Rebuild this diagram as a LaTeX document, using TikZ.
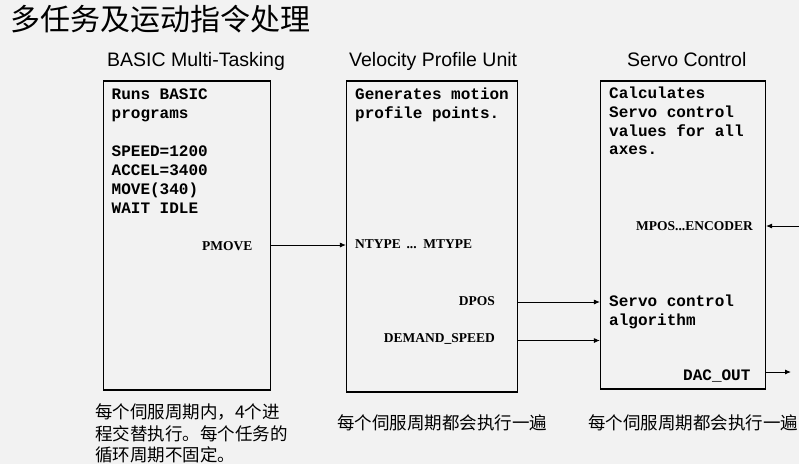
\documentclass[tikz,border=0pt]{standalone}
\usepackage{fontspec}
\setmainfont{Liberation Serif}
\setsansfont{Liberation Sans}
\setmonofont{Liberation Mono}
\newfontfamily\cjk{Noto Sans CJK SC}
\usetikzlibrary{arrows.meta}
\definecolor{bgc}{HTML}{F2F2F2}
\tikzset{
  box/.style={draw, line width=1.1pt, inner sep=0pt},
  head/.style={anchor=base west, inner sep=0pt, font=\sffamily\fontsize{19.5}{22}\selectfont},
  body/.style={anchor=north west, inner sep=0pt, align=left, font=\ttfamily\bfseries\fontsize{16}{18.9}\selectfont},
  sig/.style={inner sep=0pt, font=\rmfamily\bfseries\fontsize{13.5}{16}\selectfont},
  note/.style={anchor=north west, inner sep=0pt, align=left, font=\cjk\fontsize{17.5}{21.5}\selectfont},
  arr/.style={line width=0.9pt, -{Latex[length=6pt,width=5pt]}}
}
\begin{document}
\begin{tikzpicture}[x=1pt,y=-1pt]
\fill[bgc] (0,0) rectangle (799,464);
\useasboundingbox (0,0) rectangle (799,464);
% title
\node[anchor=west, inner sep=0pt, font=\cjk\fontsize{30}{34}\selectfont] (title) at (10,19) {多任务及运动指令处理};
% headings
\node[head] (h1) at (107,66) {BASIC Multi-Tasking};
\node[head] (h2) at (349,66) {Velocity Profile Unit};
\node[head] (h3) at (627,66) {Servo Control};
% boxes
\node[box, minimum width=167pt, minimum height=309pt] (b1) at (187,235.5) {};
\node[box, minimum width=171pt, minimum height=311pt] (b2) at (432,236.5) {};
\node[box, minimum width=165pt, minimum height=308pt] (b3) at (683,235) {};
% box texts
\node[body] (t1) at (111.5,86.3) {\strut Runs BASIC\\programs\\ \\SPEED=1200\\ACCEL=3400\\MOVE(340)\\WAIT IDLE};
\node[body] (t2) at (355,85.8) {\strut Generates motion\\profile points.};
\node[body] (t3) at (609,84.8) {\strut Calculates\\Servo control\\values for all\\axes.};
\node[body] (t4) at (609,292.8) {\strut Servo control\\algorithm};
% signal labels
\node[sig, anchor=base east] (pmove) at (252.5,250) {PMOVE};
\node[sig, anchor=base west] (ntype) at (355,248.5) {NTYPE \,...\, MTYPE};
\node[sig, anchor=base east] (dpos) at (495,305) {DPOS};
\node[sig, anchor=base east] (dspeed) at (495,342) {DEMAND\_SPEED};
\node[sig, anchor=base west] (mpos) at (636,230) {MPOS...ENCODER};
\node[anchor=base west, inner sep=0pt, font=\ttfamily\bfseries\fontsize{16}{18.9}\selectfont] (dac) at (683,380) {DAC\_OUT};
% connectors
\coordinate (ya) at (0,245);
\coordinate (yb) at (0,302);
\coordinate (yc) at (0,340.5);
\coordinate (yd) at (0,226);
\coordinate (ye) at (0,372);
\coordinate (enc) at (799,226);
\coordinate (out) at (791,372);
\draw[arr] (b1.east |- ya) -- (b2.west |- ya);
\draw[arr] (b2.east |- yb) -- (b3.west |- yb);
\draw[arr] (b2.east |- yc) -- (b3.west |- yc);
\draw[arr] (enc) -- (b3.east |- yd);
\draw[arr] (b3.east |- ye) -- (out);
% notes
\node[note] (n1) at (95,403.5) {\strut 每个伺服周期内，4个进\\程交替执行。每个任务的\\循环周期不固定。};
\node[note] (n2) at (337,414.5) {\strut 每个伺服周期都会执行一遍};
\node[note] (n3) at (588,414.5) {\strut 每个伺服周期都会执行一遍};
\end{tikzpicture}
\end{document}
